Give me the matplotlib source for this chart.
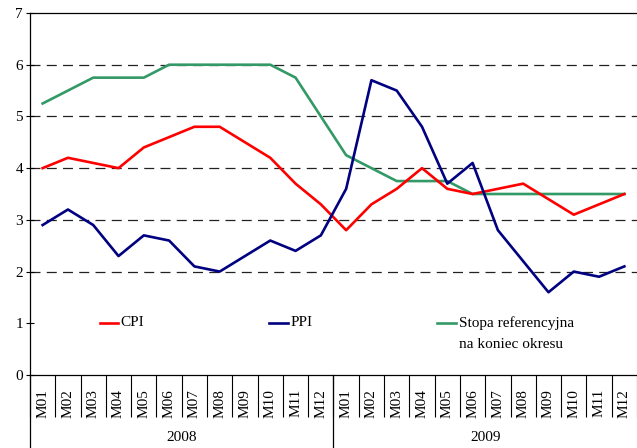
import matplotlib
matplotlib.use("Agg")
import matplotlib.pyplot as plt
from matplotlib.lines import Line2D
import numpy as np

months = ["M01", "M02", "M03", "M04", "M05", "M06", "M07", "M08", "M09", "M10", "M11", "M12"]
years = ["2008", "2009"]
cpi = [4.0, 4.2, 4.1, 4.0, 4.4, 4.6, 4.8, 4.8, 4.5, 4.2, 3.7, 3.3,
       2.8, 3.3, 3.6, 4.0, 3.6, 3.5, 3.6, 3.7, 3.4, 3.1, 3.3, 3.5]
ppi = [2.9, 3.2, 2.9, 2.3, 2.7, 2.6, 2.1, 2.0, 2.3, 2.6, 2.4, 2.7,
       3.6, 5.7, 5.5, 4.8, 3.7, 4.1, 2.8, 2.2, 1.6, 2.0, 1.9, 2.1]
stopa = [5.25, 5.5, 5.75, 5.75, 5.75, 6.0, 6.0, 6.0, 6.0, 6.0, 5.75, 5.0,
         4.25, 4.0, 3.75, 3.75, 3.75, 3.5, 3.5, 3.5, 3.5, 3.5, 3.5, 3.5]
legend_labels = ["CPI", "PPI", "Stopa referencyjna", "na koniec okresu"]
colors = {"cpi": "#ff0000", "ppi": "#000080", "stopa": "#339966"}

plt.rcParams['font.family'] = ['Liberation Serif', 'DejaVu Serif']

fig = plt.figure(figsize=(6.37, 4.48), dpi=100)
ax = fig.add_axes([30/637, 1-375/448, 607/637, 362/448])

n = len(cpi)
x = np.arange(n)
for yv in [2, 3, 4, 5, 6]:
    ax.axhline(yv, color="#222222", lw=0.9, ls=(0, (8, 5)), zorder=1)

ax.plot(x, stopa, color=colors["stopa"], lw=1.9, zorder=3)
ax.plot(x, cpi, color=colors["cpi"], lw=1.9, zorder=4)
ax.plot(x, ppi, color=colors["ppi"], lw=1.9, zorder=5)

ax.set_xlim(-0.5, n - 0.5)
ax.set_ylim(0, 7)
ax.set_yticks(range(0, 8))
ax.tick_params(axis='y', direction='inout', length=6, width=0.8, labelsize=11, pad=2)

ax.set_xticks(x)
ax.set_xticklabels(months * len(years), rotation=90, fontsize=11)
ax.tick_params(axis='x', which='major', length=0, pad=10)
ax.set_xticks(np.arange(-0.5, n, 1.0), minor=True)
ax.tick_params(axis='x', which='minor', length=30, width=0.8, direction='out')

for s in ['right']:
    ax.spines[s].set_visible(False)
for s in ['left', 'bottom', 'top']:
    ax.spines[s].set_linewidth(0.9)

trans = ax.get_xaxis_transform()
for b in [-0.5, 11.5]:
    ax.add_line(Line2D([b, b], [0, -0.2], transform=trans, color='black', lw=0.9, clip_on=False))
for i, yr in enumerate(years):
    ax.text(i * 12 + 5.5, -0.174, yr, transform=trans, ha='center', va='center', fontsize=11)

# legend (manual)
ly = (375 - 323) / 362
entries = [(0.115, 0.145, colors["cpi"], legend_labels[0]),
           (0.394, 0.425, colors["ppi"], legend_labels[1]),
           (0.670, 0.702, colors["stopa"], legend_labels[2])]
for x0, x1, c, lab in entries:
    ax.add_line(Line2D([x0, x1], [ly, ly], transform=ax.transAxes, color=c, lw=1.9))
    ax.text(x1 + 0.004, ly, lab, transform=ax.transAxes, ha='left', va='center', fontsize=11)
ax.text(0.706, (375 - 344) / 362, legend_labels[3], transform=ax.transAxes,
        ha='left', va='center', fontsize=11)

fig.savefig("out.png", dpi=100)
